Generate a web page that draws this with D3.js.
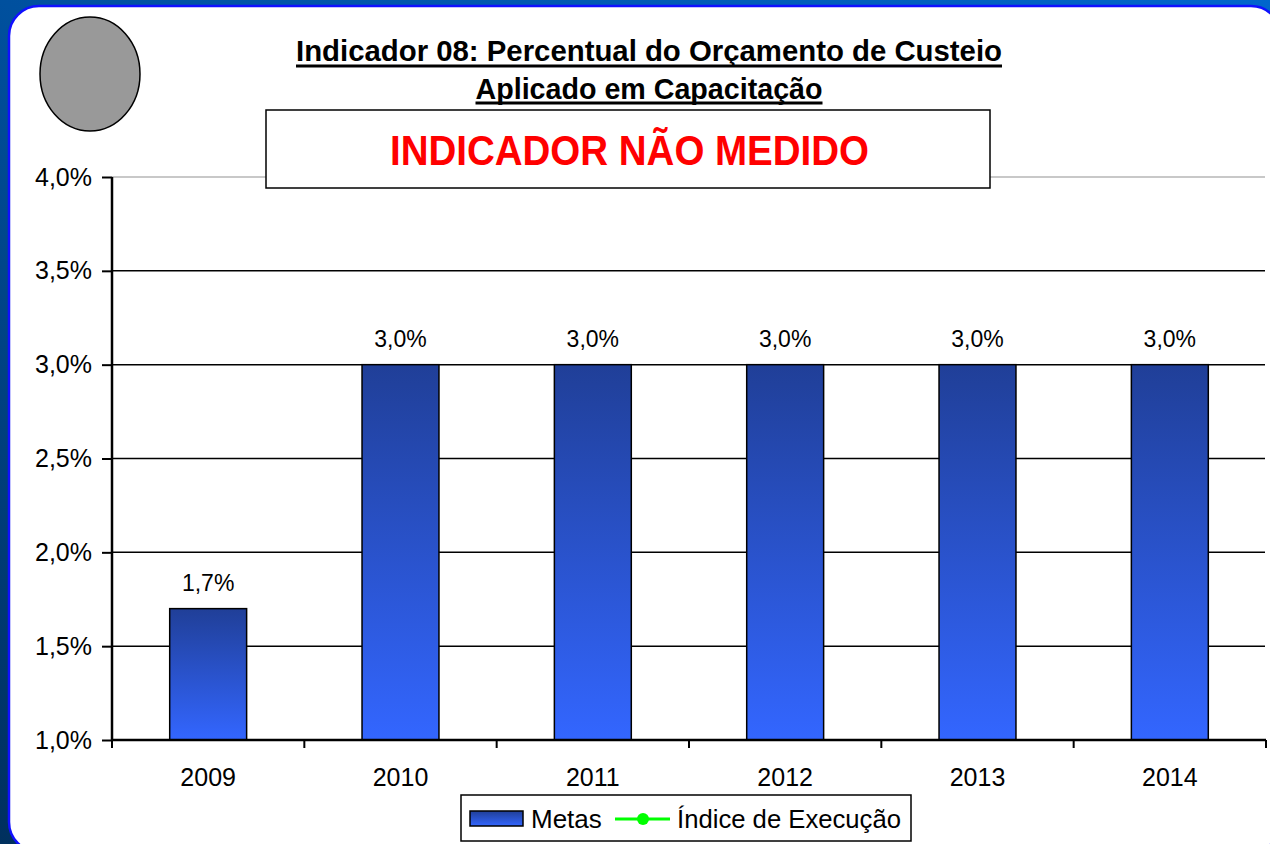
<!DOCTYPE html>
<html>
<head>
<meta charset="utf-8">
<script src="https://cdn.jsdelivr.net/npm/d3@7/dist/d3.min.js"></script>
<style>
html,body{margin:0;padding:0;overflow:hidden;background:#0055aa;}
svg{display:block;}
</style>
</head>
<body>
<svg id="chart" width="1270" height="844"></svg>
<script>
const categories = ["2009","2010","2011","2012","2013","2014"];
const metas = [0.017, 0.030, 0.030, 0.030, 0.030, 0.030];
const indiceExecucao = [null, null, null, null, null, null];
const yTicks = [0.010, 0.015, 0.020, 0.025, 0.030, 0.035, 0.040];
const titleLines = ["Indicador 08: Percentual do Orçamento de Custeio", "Aplicado em Capacitação"];
const statusText = "INDICADOR NÃO MEDIDO";
const legendLabels = ["Metas", "Índice de Execução"];

const fmt = v => d3.format(".1f")(v*100).replace(".", ",") + "%";
const svg = d3.select("#chart");
const font = "'Liberation Sans', Arial, sans-serif";
const narrow = "'Liberation Sans Narrow', 'Arial Narrow', 'Liberation Sans', Arial, sans-serif";

const defs = svg.append("defs");
const bg = defs.append("linearGradient").attr("id","bg").attr("x1","0").attr("y1","1").attr("x2","1").attr("y2","0");
bg.append("stop").attr("offset","0").attr("stop-color","#00305e");
bg.append("stop").attr("offset","0.5").attr("stop-color","#00509e");
bg.append("stop").attr("offset","1").attr("stop-color","#0066cc");
const bar = defs.append("linearGradient").attr("id","bar").attr("x1","0").attr("y1","0").attr("x2","0").attr("y2","1");
bar.append("stop").attr("offset","0").attr("stop-color","#203f98");
bar.append("stop").attr("offset","1").attr("stop-color","#3366ff");
const sw = defs.append("linearGradient").attr("id","sw").attr("x1","0").attr("y1","0").attr("x2","0").attr("y2","1");
sw.append("stop").attr("offset","0").attr("stop-color","#203f98");
sw.append("stop").attr("offset","1").attr("stop-color","#3366ff");

svg.append("rect").attr("width",1270).attr("height",844).attr("fill","url(#bg)");
svg.append("rect").attr("x",9).attr("y",6).attr("width",1272).attr("height",846)
  .attr("rx",30).attr("ry",30).attr("fill","#fff").attr("stroke","#1010ff").attr("stroke-width",2.5);

// gray ellipse
svg.append("ellipse").attr("cx",90).attr("cy",74).attr("rx",50).attr("ry",57)
  .attr("fill","#999999").attr("stroke","#000").attr("stroke-width",1.5);

const x = d3.scaleBand().domain(categories).range([112,1266]).paddingInner(0.6).paddingOuter(0.3);
const y = d3.scaleLinear().domain([0.01,0.04]).range([740,177]);

// gridlines
svg.append("g").selectAll("line").data(yTicks.filter(t=>t>0.01)).join("line")
  .attr("x1",112).attr("x2",1265).attr("y1",d=>y(d)).attr("y2",d=>y(d))
  .attr("stroke",d=>d===0.04?"#c8c8c8":"#000").attr("stroke-width",d=>d===0.04?2:1.5);

// y axis
const yAxis = d3.axisLeft(y).tickValues(yTicks).tickFormat(fmt).tickSize(10).tickPadding(10);
const ya = svg.append("g").attr("transform","translate(112,0)").call(yAxis);
ya.select(".domain").attr("stroke","#000").attr("stroke-width",2.5).attr("d","M0,177V740");
ya.selectAll(".tick line").attr("stroke","#000").attr("stroke-width",2);
ya.selectAll(".tick text").attr("font-family",font).attr("font-size",25).attr("fill","#000");

// bars
svg.append("g").selectAll("rect").data(metas).join("rect")
  .attr("x",(d,i)=>x(categories[i])).attr("width",x.bandwidth())
  .attr("y",d=>y(d)).attr("height",d=>y(0.01)-y(d))
  .attr("fill","url(#bar)").attr("stroke","#000").attr("stroke-width",1.5);

// value labels
svg.append("g").selectAll("text").data(metas).join("text")
  .attr("x",(d,i)=>x(categories[i])+x.bandwidth()/2).attr("y",d=>y(d)-18)
  .attr("text-anchor","middle").attr("font-family",font).attr("font-size",23).attr("fill","#000")
  .text(d=>fmt(d));

// x axis
const step = x.step();
const boundaries = categories.map(c=>x(c)-step*x.paddingInner()/2).map((v,i)=>i===0?112:v);
boundaries.push(1266);
const xa = svg.append("g");
xa.append("line").attr("x1",112).attr("x2",1266).attr("y1",y(0.01)).attr("y2",y(0.01)).attr("stroke","#000").attr("stroke-width",2.5);
xa.selectAll(".xt").data(boundaries).join("line").attr("class","xt")
  .attr("x1",d=>d).attr("x2",d=>d).attr("y1",y(0.01)).attr("y2",y(0.01)+8)
  .attr("stroke","#000").attr("stroke-width",2);
xa.selectAll("text").data(categories).join("text")
  .attr("x",d=>x(d)+x.bandwidth()/2).attr("y",786)
  .attr("text-anchor","middle").attr("font-family",font).attr("font-size",25).attr("fill","#000")
  .text(d=>d);

// Índice de Execução (not measured: no points)
const line = d3.line().defined(d=>d!=null).x((d,i)=>x(categories[i])+x.bandwidth()/2).y(d=>y(d));
svg.append("path").datum(indiceExecucao).attr("d",line).attr("fill","none").attr("stroke","#00ff00").attr("stroke-width",3);

// title
const tl = [[61,706,66],[99,347,103]];
titleLines.forEach((t,i)=>{
  svg.append("text").attr("x",649).attr("y",tl[i][0]).attr("text-anchor","middle")
    .attr("font-family",narrow).attr("font-weight","bold").attr("font-size",30)
    .attr("textLength",tl[i][1]).attr("lengthAdjust","spacingAndGlyphs").attr("fill","#000").text(t);
  svg.append("line").attr("x1",649-tl[i][1]/2).attr("x2",649+tl[i][1]/2).attr("y1",tl[i][2]).attr("y2",tl[i][2])
    .attr("stroke","#000").attr("stroke-width",3);
});

// status box
svg.append("rect").attr("x",266).attr("y",110).attr("width",724).attr("height",78)
  .attr("fill","#fff").attr("stroke","#000").attr("stroke-width",1.5);
svg.append("text").attr("x",629.5).attr("y",165).attr("text-anchor","middle")
  .attr("font-family",narrow).attr("font-weight","bold").attr("font-size",43)
  .attr("textLength",479).attr("lengthAdjust","spacingAndGlyphs").attr("fill","#ff0000").text(statusText);

// legend
const lg = svg.append("g");
lg.append("rect").attr("x",461).attr("y",795).attr("width",450).attr("height",46)
  .attr("fill","#fff").attr("stroke","#000").attr("stroke-width",1.5);
lg.append("rect").attr("x",470).attr("y",811).attr("width",53).attr("height",15)
  .attr("fill","url(#sw)").attr("stroke","#000").attr("stroke-width",1.5);
lg.append("text").attr("x",531).attr("y",828).attr("font-family",font).attr("font-size",26).attr("fill","#000").text(legendLabels[0]);
lg.append("line").attr("x1",615).attr("x2",670).attr("y1",819).attr("y2",819).attr("stroke","#00ff00").attr("stroke-width",3);
lg.append("circle").attr("cx",643).attr("cy",819).attr("r",6).attr("fill","#00ff00");
lg.append("text").attr("x",677).attr("y",828).attr("font-family",font).attr("font-size",26).attr("fill","#000")
  .attr("textLength",224).attr("lengthAdjust","spacingAndGlyphs").text(legendLabels[1]);
</script>
</body>
</html>
